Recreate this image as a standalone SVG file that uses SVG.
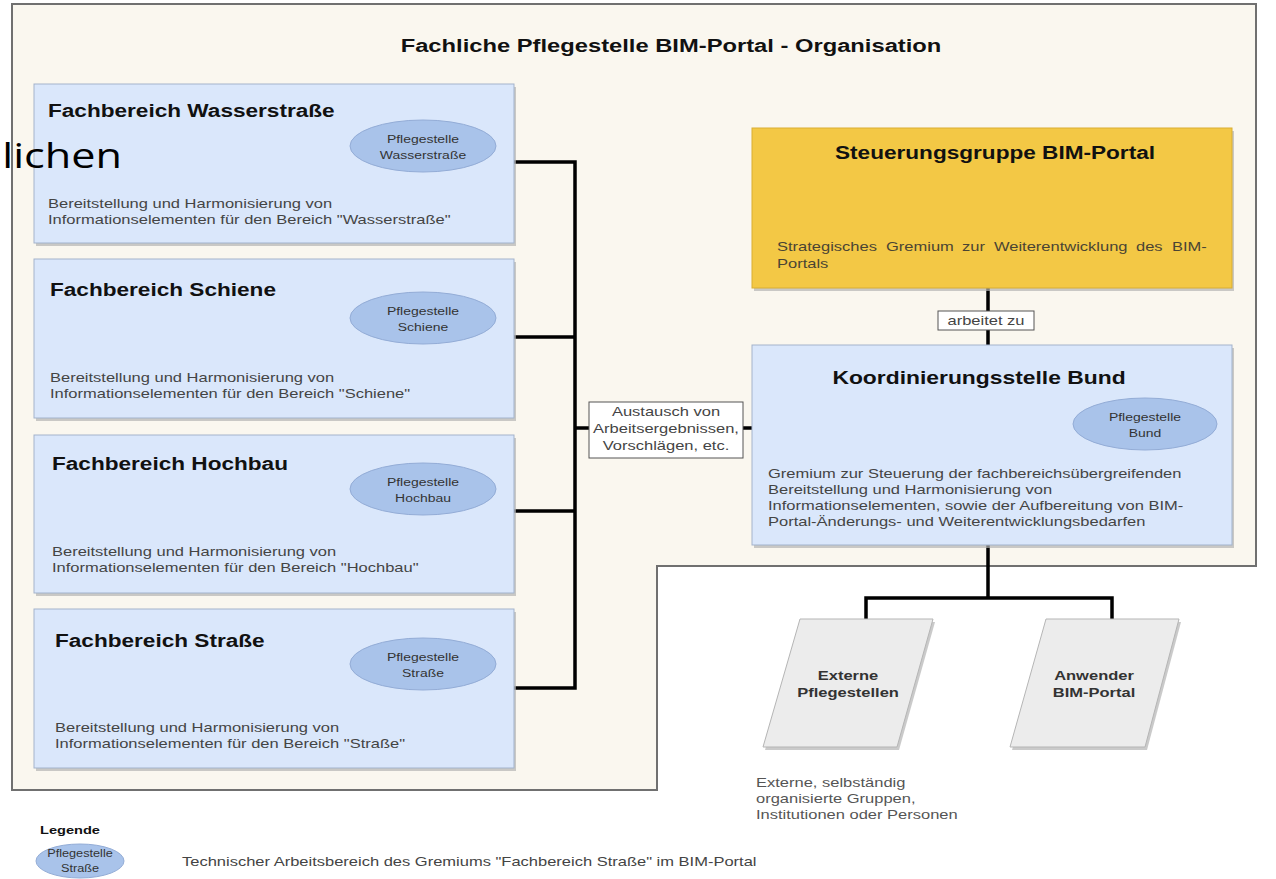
<svg xmlns="http://www.w3.org/2000/svg" width="1276" height="879" viewBox="0 0 1276 879">
<style>
.t{font-family:"Liberation Sans",Arial,sans-serif}
.h{font-weight:bold;fill:#111;font-size:17.8px}
.hk{font-weight:bold;fill:#111;font-size:18px}
.hp{font-weight:bold;fill:#333;font-size:13px;text-anchor:middle}
.hl{font-weight:bold;fill:#111;font-size:11.5px}
.d{fill:#444;font-size:13px}
.n{fill:#555;font-size:13px}
.y{fill:#4a4434;font-size:13px}
.e{fill:#333;font-size:11px;text-anchor:middle}
.el{fill:#333;font-size:10px;text-anchor:middle}
.m{text-anchor:middle}
.box{fill:#dae7fb;stroke:#a3b3cc;stroke-width:1}
.sh{fill:#b4b4b4;opacity:.7}
.ell{fill:#a9c3ea;stroke:#93acd6;stroke-width:1}
.conn{fill:none;stroke:#000;stroke-width:3.5}
.lbl{fill:#fff;stroke:#555;stroke-width:1}
.par{fill:#ececec;stroke:#b5b5b5;stroke-width:1}
</style>
<rect width="1276" height="879" fill="#fff"/>
<g id="container">
<polygon points="12,4 1256,4 1256,566 657,566 657,790 12,790" fill="#faf7ef" stroke="#707070" stroke-width="2"/>
<text class="t" font-weight="bold" font-size="18.7" fill="#111" text-anchor="middle" transform="matrix(1.27 0 0 1 671 52)">Fachliche Pflegestelle BIM-Portal - Organisation</text>
</g>
<g id="connectors">
<path class="conn" d="M514 162H575M514 337H575M514 511H575M514 688H575M575 160.3V689.7M575 428H752"/>
<path class="conn" d="M988 288V345M988 545V598M866 598H1112M866 596.3V619M1112 596.3V619"/>
<rect class="lbl" x="589" y="402" width="154" height="56"/>
<text class="t d m" transform="matrix(1.27 0 0 1 666 416)">Austausch von</text>
<text class="t d m" transform="matrix(1.27 0 0 1 666 433)">Arbeitsergebnissen,</text>
<text class="t d m" transform="matrix(1.27 0 0 1 666 450)">Vorschlägen, etc.</text>
<rect class="lbl" x="938" y="311" width="96" height="19"/>
<text class="t d m" transform="matrix(1.27 0 0 1 986 325)">arbeitet zu</text>
</g>
<g id="fb-wasserstrasse">
<rect class="sh" x="36" y="87" width="480" height="159"/>
<rect class="box" x="34" y="84" width="480" height="159"/>
<text class="t h" transform="matrix(1.27 0 0 1 48 117)">Fachbereich Wasserstraße</text>
<ellipse class="ell" cx="423" cy="146" rx="73" ry="26"/>
<text class="t e" transform="matrix(1.27 0 0 1 423 143)">Pflegestelle</text>
<text class="t e" transform="matrix(1.27 0 0 1 423 159)">Wasserstraße</text>
<text class="t d" transform="matrix(1.27 0 0 1 48 208)">Bereitstellung und Harmonisierung von</text>
<text class="t d" transform="matrix(1.27 0 0 1 48 224)">Informationselementen für den Bereich "Wasserstraße"</text>
</g>
<g id="fb-schiene">
<rect class="sh" x="36" y="262" width="480" height="159"/>
<rect class="box" x="34" y="259" width="480" height="159"/>
<text class="t h" transform="matrix(1.27 0 0 1 50 296)">Fachbereich Schiene</text>
<ellipse class="ell" cx="423" cy="318" rx="73" ry="26"/>
<text class="t e" transform="matrix(1.27 0 0 1 423 315)">Pflegestelle</text>
<text class="t e" transform="matrix(1.27 0 0 1 423 331)">Schiene</text>
<text class="t d" transform="matrix(1.27 0 0 1 50 382)">Bereitstellung und Harmonisierung von</text>
<text class="t d" transform="matrix(1.27 0 0 1 50 398)">Informationselementen für den Bereich "Schiene"</text>
</g>
<g id="fb-hochbau">
<rect class="sh" x="36" y="438" width="480" height="158"/>
<rect class="box" x="34" y="435" width="480" height="158"/>
<text class="t h" transform="matrix(1.27 0 0 1 52 470)">Fachbereich Hochbau</text>
<ellipse class="ell" cx="423" cy="489" rx="73" ry="26"/>
<text class="t e" transform="matrix(1.27 0 0 1 423 486)">Pflegestelle</text>
<text class="t e" transform="matrix(1.27 0 0 1 423 502)">Hochbau</text>
<text class="t d" transform="matrix(1.27 0 0 1 52 556)">Bereitstellung und Harmonisierung von</text>
<text class="t d" transform="matrix(1.27 0 0 1 52 572)">Informationselementen für den Bereich "Hochbau"</text>
</g>
<g id="fb-strasse">
<rect class="sh" x="36" y="612" width="480" height="159"/>
<rect class="box" x="34" y="609" width="480" height="159"/>
<text class="t h" transform="matrix(1.27 0 0 1 55 647)">Fachbereich Straße</text>
<ellipse class="ell" cx="423" cy="664" rx="73" ry="26"/>
<text class="t e" transform="matrix(1.27 0 0 1 423 661)">Pflegestelle</text>
<text class="t e" transform="matrix(1.27 0 0 1 423 677)">Straße</text>
<text class="t d" transform="matrix(1.27 0 0 1 55 732)">Bereitstellung und Harmonisierung von</text>
<text class="t d" transform="matrix(1.27 0 0 1 55 748)">Informationselementen für den Bereich "Straße"</text>
</g>
<g id="steuerungsgruppe">
<rect class="sh" x="754" y="131" width="480" height="160"/>
<rect x="752" y="128" width="480" height="160" fill="#f3c845" stroke="#d9ae33" stroke-width="1"/>
<text class="t h m" transform="matrix(1.27 0 0 1 995 159)">Steuerungsgruppe BIM-Portal</text>
<text class="t y" transform="matrix(1.27 0 0 1 777 251)">Strategisches</text>
<text class="t y" transform="matrix(1.27 0 0 1 886 251)">Gremium</text>
<text class="t y" transform="matrix(1.27 0 0 1 962 251)">zur</text>
<text class="t y" transform="matrix(1.27 0 0 1 994 251)">Weiterentwicklung</text>
<text class="t y" transform="matrix(1.27 0 0 1 1136 251)">des</text>
<text class="t y" transform="matrix(1.27 0 0 1 1172 251)">BIM-</text>
<text class="t y" transform="matrix(1.27 0 0 1 777 268)">Portals</text>
</g>
<g id="koordinierungsstelle">
<rect class="sh" x="754" y="348" width="480" height="200"/>
<rect class="box" x="752" y="345" width="480" height="200"/>
<text class="t hk m" transform="matrix(1.27 0 0 1 979 384)">Koordinierungsstelle Bund</text>
<ellipse class="ell" cx="1145" cy="424" rx="72" ry="26"/>
<text class="t e" transform="matrix(1.27 0 0 1 1145 421)">Pflegestelle</text>
<text class="t e" transform="matrix(1.27 0 0 1 1145 437)">Bund</text>
<text class="t d" transform="matrix(1.27 0 0 1 768 478)">Gremium zur Steuerung der fachbereichsübergreifenden</text>
<text class="t d" transform="matrix(1.27 0 0 1 768 494)">Bereitstellung und Harmonisierung von</text>
<text class="t d" transform="matrix(1.27 0 0 1 768 510)">Informationselementen, sowie der Aufbereitung von BIM-</text>
<text class="t d" transform="matrix(1.27 0 0 1 768 526)">Portal-Änderungs- und Weiterentwicklungsbedarfen</text>
</g>
<g id="externe-pflegestellen">
<polygon class="sh" points="802,622 935,622 899,750 765,750"/>
<polygon class="par" points="800,619 933,619 897,747 763,747"/>
<text class="t hp" transform="matrix(1.27 0 0 1 848 680)">Externe</text>
<text class="t hp" transform="matrix(1.27 0 0 1 848 697)">Pflegestellen</text>
</g>
<g id="anwender">
<polygon class="sh" points="1048,622 1181,622 1147,750 1012,750"/>
<polygon class="par" points="1046,619 1179,619 1145,747 1010,747"/>
<text class="t hp" transform="matrix(1.27 0 0 1 1094 680)">Anwender</text>
<text class="t hp" transform="matrix(1.27 0 0 1 1094 697)">BIM-Portal</text>
</g>
<g id="externe-note">
<text class="t n" transform="matrix(1.27 0 0 1 756 787)">Externe, selbständig</text>
<text class="t n" transform="matrix(1.27 0 0 1 756 803)">organisierte Gruppen,</text>
<text class="t n" transform="matrix(1.27 0 0 1 756 819)">Institutionen oder Personen</text>
</g>
<g id="legende">
<text class="t hl" transform="matrix(1.27 0 0 1 40 834)">Legende</text>
<ellipse class="ell" cx="80" cy="861" rx="44" ry="17"/>
<text class="t el" transform="matrix(1.27 0 0 1 80 857)">Pflegestelle</text>
<text class="t el" transform="matrix(1.27 0 0 1 80 872)">Straße</text>
<text class="t d" transform="matrix(1.27 0 0 1 182 866)">Technischer Arbeitsbereich des Gremiums "Fachbereich Straße" im BIM-Portal</text>
</g>
<g id="overlay-text">
<text font-family="'Open Sans','Noto Sans',sans-serif" font-size="34" fill="#000" text-anchor="end" transform="matrix(1.27 0 0 1 122 168)">lichen</text>
</g>
</svg>
